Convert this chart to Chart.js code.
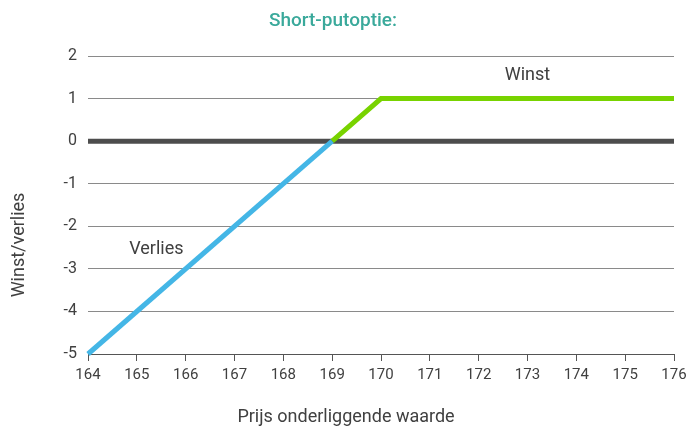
<!DOCTYPE html>
<html>
<head>
<meta charset="utf-8">
<script src="https://cdn.jsdelivr.net/npm/chart.js@4"></script>
<style>
  html, body { margin: 0; padding: 0; background: #fff; }
  #wrap { width: 686px; height: 428px; }
</style>
</head>
<body>
<div id="wrap"><canvas id="putoptie" width="686" height="428"></canvas></div>
<script>
// prijs onderliggende waarde vs. winst/verlies
const verliesX = [164, 169];
const verliesY = [-5, 0];
const winstX = [169, 170, 176];
const winstY = [0, 1, 1];
const nulX = [164, 176];
const nulY = [0, 0];
const xTicks = [164, 165, 166, 167, 168, 169, 170, 171, 172, 173, 174, 175, 176];
const yTicks = [-5, -4, -3, -2, -1, 0, 1, 2];
const labelTexts = ['Winst', 'Verlies'];
const labelAt = [[173, 1.55], [165.4, -2.55]];
const titleText = 'Short-putoptie:';
const xTitle = 'Prijs onderliggende waarde';
const yTitle = 'Winst/verlies';

const toPoints = (xs, ys) => xs.map((x, i) => ({ x: x, y: ys[i] }));

const textColor = '#404040';
const fontFamily = 'Roboto, "DejaVu Sans", sans-serif';

// title, axis titles and the "Winst" / "Verlies" captions
const captions = {
    id: 'captions',
    afterDatasetsDraw(chart) {
        const ctx = chart.ctx;
        const xs = chart.scales.x, ys = chart.scales.y;
        ctx.save();
        ctx.textAlign = 'center';
        ctx.textBaseline = 'middle';

        ctx.font = '500 19px ' + fontFamily;
        ctx.fillStyle = '#3aa99b';
        ctx.fillText(titleText, 333, 21);

        ctx.font = '18px ' + fontFamily;
        ctx.fillStyle = textColor;
        labelTexts.forEach((t, i) => {
            ctx.fillText(t, xs.getPixelForValue(labelAt[i][0]), ys.getPixelForValue(labelAt[i][1]));
        });

        ctx.fillText(xTitle, 346, 417);

        ctx.translate(19, 245);
        ctx.rotate(-Math.PI / 2);
        ctx.fillText(yTitle, 0, 0);
        ctx.restore();
    }
};

new Chart(document.getElementById('putoptie'), {
    type: 'line',
    data: {
        datasets: [
            {
                label: 'Verlies',
                data: toPoints(verliesX, verliesY),
                borderColor: '#44b6e6',
                borderWidth: 5,
                pointRadius: 0,
                clip: 6,
                order: 1
            },
            {
                label: 'Winst',
                data: toPoints(winstX, winstY),
                borderColor: '#78d300',
                borderWidth: 5,
                pointRadius: 0,
                clip: 6,
                order: 1
            },
            {
                label: 'nul',
                data: toPoints(nulX, nulY),
                borderColor: '#4d4d4d',
                borderWidth: 5,
                pointRadius: 0,
                clip: 6,
                order: 2
            }
        ]
    },
    options: {
        responsive: false,
        animation: false,
        layout: { padding: { left: 0, right: 12, top: 56, bottom: 0 } },
        plugins: {
            legend: { display: false },
            tooltip: { enabled: false },
            title: { display: false }
        },
        scales: {
            x: {
                type: 'linear',
                min: 164,
                max: 176,
                afterBuildTicks: s => { s.ticks = xTicks.map(v => ({ value: v })); },
                grid: {
                    drawOnChartArea: false,
                    drawTicks: true,
                    tickLength: 7,
                    color: '#555'
                },
                border: { display: true, color: '#555', width: 1 },
                ticks: {
                    color: textColor,
                    font: { family: fontFamily, size: 15 },
                    padding: 5,
                    maxRotation: 0
                },
                afterFit: s => {
                    s.height = 74;
                    s.paddingLeft = 0;
                    s.paddingRight = 0;
                }
            },
            y: {
                min: -5,
                max: 2,
                afterBuildTicks: s => { s.ticks = yTicks.map(v => ({ value: v })); },
                grid: {
                    drawTicks: false,
                    color: '#8a8a8a',
                    lineWidth: 1
                },
                border: { display: false },
                ticks: {
                    color: textColor,
                    font: { family: fontFamily, size: 16 },
                    padding: 11
                },
                afterFit: s => { s.width = 88; }
            }
        }
    },
    plugins: [captions]
});
</script>
</body>
</html>
